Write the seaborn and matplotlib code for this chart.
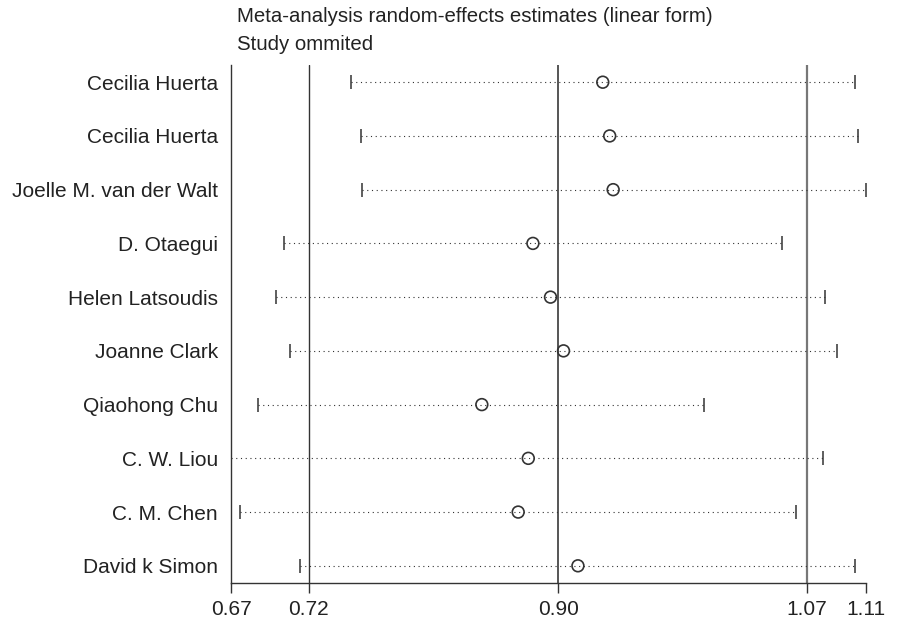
import matplotlib
matplotlib.use("Agg")
import matplotlib.pyplot as plt
import seaborn as sns
import pandas as pd

# ---- data ----
studies = ["Cecilia Huerta", "Cecilia Huerta", "Joelle M. van der Walt", "D. Otaegui",
           "Helen Latsoudis", "Joanne Clark", "Qiaohong Chu", "C. W. Liou",
           "C. M. Chen", "David k Simon"]
estimates = [0.9276, 0.9324, 0.9348, 0.8792, 0.8914, 0.9004, 0.8438, 0.8760, 0.8690, 0.9104]
lower_ci = [0.7531, 0.7603, 0.7606, 0.7066, 0.7009, 0.7108, 0.6886, 0.6700, 0.6764, 0.7180]
upper_ci = [1.1026, 1.1047, 1.1098, 1.0521, 1.0819, 1.0897, 0.9980, 1.0800, 1.0618, 1.1022]
tick_values = [0.670, 0.724, 0.8967, 1.0689, 1.110]
tick_labels = ["0.67", "0.72", "0.90", "1.07", "1.11"]
ref_lines = [0.724, 0.8967, 1.0689]
title_lines = ["Meta-analysis random-effects estimates (linear form)", "Study ommited"]

sns.set_theme(style="white")
plt.rcParams["font.family"] = ["Liberation Sans", "DejaVu Sans"]

df = pd.DataFrame({"study": studies, "row": list(range(len(studies))),
                   "est": estimates, "lo": lower_ci, "hi": upper_ci})

W, H = 906, 619
fig = plt.figure(figsize=(W / 100, H / 100), dpi=100)
ax = fig.add_axes([231 / W, 36 / H, 635 / W, 518 / H])

ink = "#333333"

# reference lines
ref_colors = ["#333333", "#555555", "#777777"]
ref_widths = [1.0, 1.4, 1.6]
for xv, c, lw in zip(ref_lines, ref_colors, ref_widths):
    ax.axvline(xv, color=c, linewidth=lw, zorder=1)

# dotted CI lines
ax.hlines(df["row"], df["lo"], df["hi"], colors=ink, linewidth=0.8,
          linestyles=[(0, (1, 3.25))], zorder=2)

# caps
sns.scatterplot(data=df, x="lo", y="row", marker="|", s=105, color=ink, ec=ink,
                linewidth=1.1, ax=ax, zorder=3, legend=False)
sns.scatterplot(data=df, x="hi", y="row", marker="|", s=105, color=ink, ec=ink,
                linewidth=1.1, ax=ax, zorder=3, legend=False)

# estimates (hollow circles)
sns.scatterplot(data=df, x="est", y="row", marker="o", s=72, fc="none", ec=ink,
                linewidth=1.2, ax=ax, zorder=4, legend=False)

ax.set_xlim(0.670, 1.110)
ax.set_ylim(9.32, -0.32)
ax.set_xticks(tick_values)
ax.set_xticklabels(tick_labels)
ax.set_yticks(df["row"])
ax.set_yticklabels(df["study"])
ax.set_xlabel("")
ax.set_ylabel("")

ax.tick_params(axis="x", direction="out", length=7.2, width=1.0, color=ink,
               labelsize=15, labelcolor="#222222", pad=5, bottom=True)
ax.tick_params(axis="y", length=0, labelsize=15, labelcolor="#222222", pad=9.4)

for side in ["top", "right"]:
    ax.spines[side].set_visible(False)
for side in ["left", "bottom"]:
    ax.spines[side].set_color(ink)
    ax.spines[side].set_linewidth(1.0)

fig.text(237 / W, 1 - 16 / H, title_lines[0], ha="left", va="center",
         fontsize=14.7, color="#222222")
fig.text(237 / W, 1 - 45 / H, title_lines[1], ha="left", va="center",
         fontsize=14.7, color="#222222")

fig.savefig("out.png", dpi=100, facecolor="white")
